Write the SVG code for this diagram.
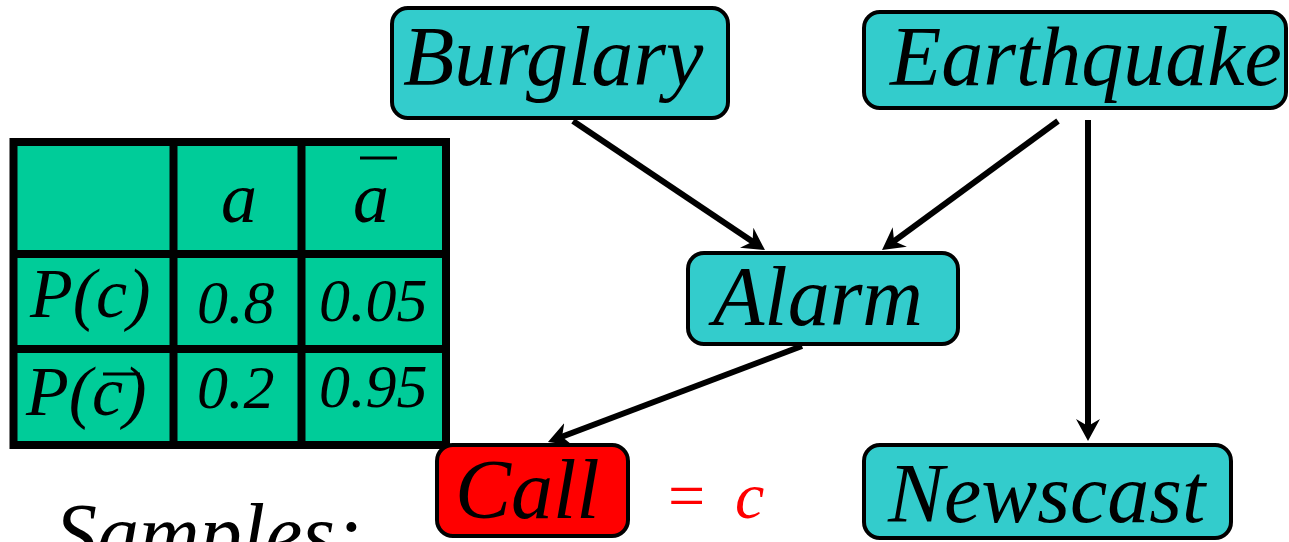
<svg xmlns="http://www.w3.org/2000/svg" width="1289" height="542" viewBox="0 0 1289 542">
<style>
.node{fill:#33CCCC;stroke:#000;stroke-width:4}
.call{fill:#FF0000;stroke:#000;stroke-width:4}
.lbl{font-family:"Liberation Serif","Times New Roman",serif;font-style:italic;font-size:84px;fill:#000}
.tbl{font-family:"Liberation Serif","Times New Roman",serif;font-style:italic;fill:#000}
.edge{stroke:#000;stroke-width:6;fill:none;marker-end:url(#ah)}
.grid{stroke:#000;stroke-width:8;fill:none}
</style>
<defs>
<marker id="ah" markerUnits="userSpaceOnUse" viewBox="0 0 22 24" markerWidth="22" markerHeight="24" refX="10" refY="12" orient="auto">
<path d="M0,0 L22,12 L0,24 L7,12 Z" fill="#000"/>
</marker>
</defs>
<rect width="1289" height="542" fill="#fff"/>
<g id="cpt-table">
<rect x="13.5" y="142" width="432.5" height="303" fill="#00CC99"/>
<rect class="grid" x="13.5" y="142" width="432.5" height="303"/>
<line class="grid" x1="173.5" y1="142" x2="173.5" y2="445"/>
<line class="grid" x1="301.5" y1="142" x2="301.5" y2="445"/>
<line class="grid" x1="13.5" y1="254" x2="446" y2="254"/>
<line class="grid" x1="13.5" y1="349" x2="446" y2="349"/>
<text class="tbl" x="239" y="222" font-size="72" text-anchor="middle">a</text>
<text class="tbl" x="371" y="222" font-size="72" text-anchor="middle">a</text>
<line x1="360" y1="158" x2="397" y2="158" stroke="#000" stroke-width="3"/>
<text class="tbl" x="30" y="317" font-size="70">P(c)</text>
<text class="tbl" x="26" y="415" font-size="70">P(c)</text>
<line x1="103" y1="374" x2="140" y2="374" stroke="#000" stroke-width="3"/>
<text class="tbl" x="197" y="323" font-size="62">0.8</text>
<text class="tbl" x="319" y="321" font-size="62">0.05</text>
<text class="tbl" x="197" y="408" font-size="62">0.2</text>
<text class="tbl" x="319" y="407" font-size="62">0.95</text>
</g>
<g id="burglary">
<rect class="node" x="392" y="8" width="336" height="110" rx="16"/>
<text class="lbl" x="403" y="85">Burglary</text>
</g>
<g id="earthquake">
<rect class="node" x="864" y="12" width="422" height="96" rx="16"/>
<text class="lbl" x="890" y="85" font-size="83">Earthquake</text>
</g>
<g id="alarm">
<rect class="node" x="688" y="253" width="270" height="91" rx="16"/>
<text class="lbl" x="713" y="325">Alarm</text>
</g>
<g id="call">
<rect class="call" x="437" y="445" width="191" height="91" rx="16"/>
<text class="lbl" x="455" y="518">Call</text>
</g>
<g id="evidence">
<text x="668" y="518" font-family="Liberation Serif, serif" font-size="66" fill="#FF0000">=</text>
<text x="735" y="518" font-family="Liberation Serif, serif" font-style="italic" font-size="66" fill="#FF0000">c</text>
</g>
<g id="newscast">
<rect class="node" x="864" y="445" width="367" height="93" rx="16"/>
<text class="lbl" x="888" y="522">Newscast</text>
</g>
<g id="samples">
<text class="lbl" x="55" y="562">Samples:</text>
</g>
<g id="connectors">
<line class="edge" x1="573" y1="121" x2="755" y2="243.3"/>
<line class="edge" x1="1058" y1="121" x2="891.7" y2="242.9"/>
<line class="edge" x1="1088" y1="120" x2="1088" y2="429"/>
<line class="edge" x1="802" y1="346" x2="559.2" y2="437.8"/>
</g>
</svg>
